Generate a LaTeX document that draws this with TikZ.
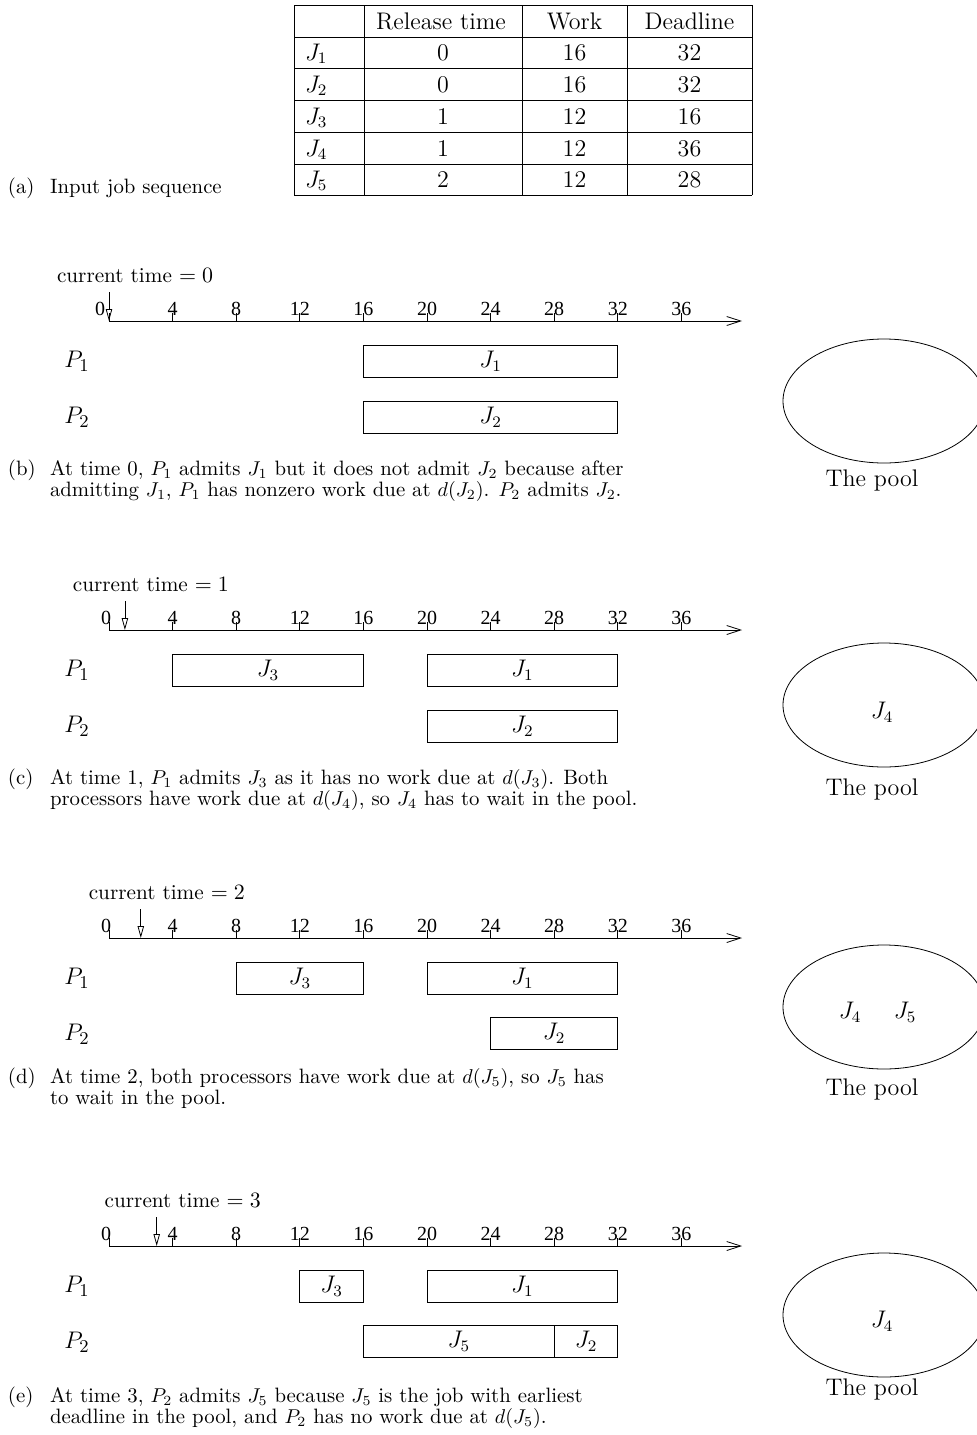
\documentclass[tikz,border=0pt]{standalone}
\usepackage{fontspec}
\newfontfamily\timesf{Liberation Serif}
\usetikzlibrary{arrows.meta,shapes.geometric}
\begin{document}
\begin{tikzpicture}[x=0.5pt,y=-0.5pt,
  every node/.style={inner sep=0pt, outer sep=0pt},
  tabtext/.style={font=\fontsize{12}{14}\selectfont, anchor=base},
  rowlab/.style={font=\fontsize{12}{14}\selectfont, anchor=base west},
  ticklab/.style={font=\timesf\fontsize{10}{12}\selectfont, anchor=base},
  axisline/.style={-{Straight Barb[length=7pt,width=4.5pt]}},
  ctarrow/.style={-{Triangle[open,length=6pt,width=3.2pt]}},
  jobbox/.style={draw, minimum height=16pt, font=\fontsize{12}{14}\selectfont},
  proclab/.style={font=\fontsize{13}{15}\selectfont},
  ctlab/.style={font=\fontsize{10.6}{13}\selectfont, anchor=base west},
  captext/.style={font=\fontsize{10.4}{12}\selectfont, anchor=base west},
  pooltext/.style={font=\fontsize{12}{14}\selectfont},
  poolshape/.style={draw, ellipse, minimum width=101pt, minimum height=62pt},
]
\useasboundingbox (0,0) rectangle (976,1435);

\newcommand\tline[4]{%
  \coordinate (#1-o) at (109,#2);
  \coordinate (#1-e) at (742,#2);
  \draw[axisline] (#1-o) -- (#1-e);
  \foreach \k in {4,8,...,36} {
    \draw (109+15.9*\k,#2) -- (109+15.9*\k,#2-8);
    \node[ticklab] (#1-t\k) at (109+15.9*\k,#2-6) {\k};
  }
  \draw (#1-o) -- ++(0,-8);
  \node[ticklab] (#1-t0) at (#4,#2-6) {0};
  \coordinate (#1-ctip) at (109+15.9*#3,#2);
  \coordinate (#1-ctop) at (109+15.9*#3,#2-29);
  \draw[ctarrow] (#1-ctop) -- (#1-ctip);
  \node[ctlab] (#1-ct) at (109+15.9*#3-52,#2-39) {current time $=#3$};
  \node[proclab] (#1-p1) at (77,#2+40) {$P_1$};
  \node[proclab] (#1-p2) at (77,#2+96) {$P_2$};
}
\newcommand\jbox[5]{%
  \node[jobbox, minimum width={(#3-#2)*7.95pt}] (#1) at ({109+7.95*(#2+#3)},#4) {$#5$};
}

% ---------- (a) table ----------
\foreach \yy in {5,37,68,100,132,164,195} \draw (294,\yy) -- (752,\yy);
\foreach \xx in {294,364,522,627,752} \draw (\xx,5) -- (\xx,195);
\node[tabtext] (h-rel) at (441,29) {Release time};
\node[tabtext] (h-work) at (574.5,29) {Work};
\node[tabtext] (h-dl) at (689.5,29) {Deadline};
\foreach \i/\yb/\r/\w/\d in {1/60/0/16/32, 2/92/0/16/32, 3/124/1/12/16, 4/156/1/12/36, 5/187/2/12/28} {
  \node[rowlab] (r\i-j) at (305,\yb) {$J_\i$};
  \node[tabtext] (r\i-r) at (443,\yb) {\r};
  \node[tabtext] (r\i-w) at (574.5,\yb) {\w};
  \node[tabtext] (r\i-d) at (689.5,\yb) {\d};
}
\node[captext] (acap-l) at (8,193) {(a)};
\node[captext] (acap-1) at (50,193) {Input job sequence};

% ---------- (b) ----------
\tline{b}{321}{0}{100}
\jbox{b-j1}{16}{32}{361}{J_1}
\jbox{b-j2}{16}{32}{417}{J_2}
\node[poolshape] (b-pool) at (884,401) {};
\node[pooltext] (b-pl) at (872,480) {The pool};
\node[captext] (bcap-l) at (8,475) {(b)};
\node[captext] (bcap-1) at (50,475) {At time 0, $P_1$ admits $J_1$ but it does not admit $J_2$ because after};
\node[captext] (bcap-2) at (50,496) {admitting $J_1$, $P_1$ has nonzero work due at $d(J_2)$. $P_2$ admits $J_2$.};

% ---------- (c) ----------
\tline{c}{630}{1}{106}
\jbox{c-j3}{4}{16}{670}{J_3}
\jbox{c-j1}{20}{32}{670}{J_1}
\jbox{c-j2}{20}{32}{726}{J_2}
\node[poolshape] (c-pool) at (884,705) {};
\node[pooltext] (c-j4) at (882,712) {$J_4$};
\node[pooltext] (c-pl) at (872,789) {The pool};
\node[captext] (ccap-l) at (8,784) {(c)};
\node[captext] (ccap-1) at (50,784) {At time 1, $P_1$ admits $J_3$ as it has no work due at $d(J_3)$. Both};
\node[captext] (ccap-2) at (50,805) {processors have work due at $d(J_4)$, so $J_4$ has to wait in the pool.};

% ---------- (d) ----------
\tline{d}{938}{2}{106}
\jbox{d-j3}{8}{16}{978}{J_3}
\jbox{d-j1}{20}{32}{978}{J_1}
\jbox{d-j2}{24}{32}{1033}{J_2}
\node[poolshape] (d-pool) at (884,1007) {};
\node[pooltext] (d-j4) at (850,1012) {$J_4$};
\node[pooltext] (d-j5) at (905,1012) {$J_5$};
\node[pooltext] (d-pl) at (872,1089) {The pool};
\node[captext] (dcap-l) at (8,1083) {(d)};
\node[captext] (dcap-1) at (50,1083) {At time 2, both processors have work due at $d(J_5)$, so $J_5$ has};
\node[captext] (dcap-2) at (50,1104) {to wait in the pool.};

% ---------- (e) ----------
\tline{e}{1246}{3}{106}
\jbox{e-j3}{12}{16}{1286}{J_3}
\jbox{e-j1}{20}{32}{1286}{J_1}
\jbox{e-j5}{16}{28}{1341}{J_5}
\jbox{e-j2}{28}{32}{1341}{J_2}
\node[poolshape] (e-pool) at (884,1315) {};
\node[pooltext] (e-j4) at (882,1321) {$J_4$};
\node[pooltext] (e-pl) at (872,1389) {The pool};
\node[captext] (ecap-l) at (8,1402) {(e)};
\node[captext] (ecap-1) at (50,1402) {At time 3, $P_2$ admits $J_5$ because $J_5$ is the job with earliest};
\node[captext] (ecap-2) at (50,1423) {deadline in the pool, and $P_2$ has no work due at $d(J_5)$.};
\end{tikzpicture}
\end{document}
